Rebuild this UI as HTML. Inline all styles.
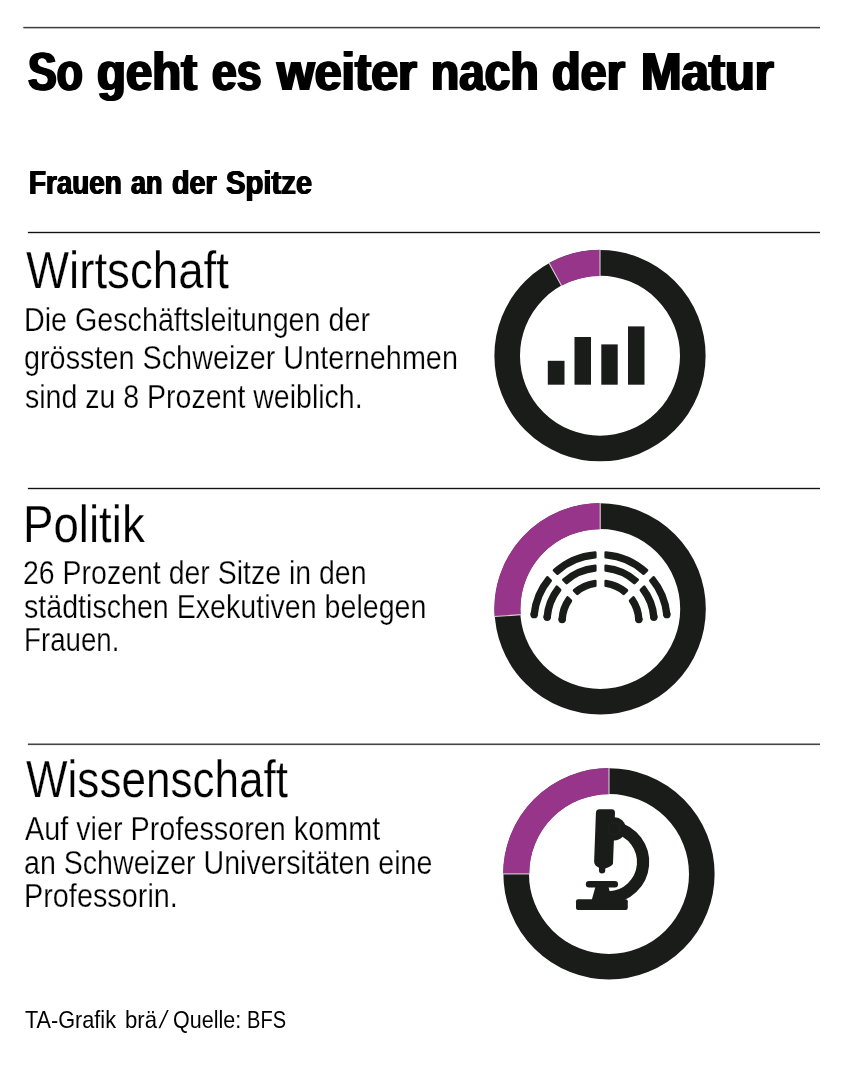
<!DOCTYPE html>
<html lang="de"><head><meta charset="utf-8"><title>So geht es weiter nach der Matur</title>
<style>
html,body{margin:0;padding:0;background:#fff;}
#g{position:relative;width:844px;height:1065px;overflow:hidden;background:#fff;
  font-family:"Liberation Sans",sans-serif;color:#000;}
#g svg{position:absolute;left:0;top:0;display:block;}
#g h1,#g h2,#g h3,#g p,#g footer,#g section{margin:0;padding:0;font-weight:normal;font-size:inherit;}
#g span{position:absolute;white-space:pre;line-height:1;transform-origin:0 0;display:block;}
#g h1,#g h2{font-weight:bold;color:#000;}
#g h3 span,#g p span{-webkit-text-stroke:0.25px #fff;}
#g h1 span{text-shadow:1.39px 0 0 #000,-1.39px 0 0 #000;}
#g h2 span{text-shadow:0.8px 0 0 #000,-0.8px 0 0 #000;}
</style></head><body>
<div id="g">
<svg width="844" height="1065" viewBox="0 0 844 1065">
<rect x="23.3" y="26.85" width="796.7" height="1.5" fill="#3c3c3c"/>
<rect x="27.9" y="231.82" width="792.1" height="1.35" fill="#111"/>
<rect x="27.9" y="487.82" width="792.1" height="1.35" fill="#111"/>
<rect x="27.9" y="743.50" width="792.1" height="1.6" fill="#444"/>
<circle cx="600" cy="355.7" r="92.8" fill="none" stroke="#191c18" stroke-width="25.6"/>
<path d="M600.00,262.90 A92.8,92.8 0 0 0 555.29,274.38" fill="none" stroke="#97358a" stroke-width="26.2"/>
<line x1="600.00" y1="276.20" x2="600.00" y2="249.60" stroke="#d4d0d6" stroke-width="1.1"/>
<line x1="561.70" y1="286.03" x2="548.89" y2="262.72" stroke="#d4d0d6" stroke-width="1.1"/>
<circle cx="600.2" cy="608.9" r="92.8" fill="none" stroke="#191c18" stroke-width="25.6"/>
<path d="M600.20,516.10 A92.8,92.8 0 0 0 507.64,615.60" fill="none" stroke="#97358a" stroke-width="26.2"/>
<line x1="600.20" y1="529.40" x2="600.20" y2="502.80" stroke="#d4d0d6" stroke-width="1.1"/>
<line x1="520.91" y1="614.64" x2="494.38" y2="616.56" stroke="#d4d0d6" stroke-width="1.1"/>
<circle cx="609.0" cy="873.9" r="92.8" fill="none" stroke="#191c18" stroke-width="25.6"/>
<path d="M609.00,781.10 A92.8,92.8 0 0 0 516.20,873.90" fill="none" stroke="#97358a" stroke-width="26.2"/>
<line x1="609.00" y1="794.40" x2="609.00" y2="767.80" stroke="#d4d0d6" stroke-width="1.1"/>
<line x1="529.50" y1="873.90" x2="502.90" y2="873.90" stroke="#d4d0d6" stroke-width="1.1"/>
<rect x="547.8" y="360.8" width="16.7" height="23.9" fill="#191c18"/>
<rect x="574.5" y="337.0" width="16.5" height="47.7" fill="#191c18"/>
<rect x="601.3" y="344.4" width="16.4" height="40.3" fill="#191c18"/>
<rect x="628.0" y="326.4" width="16.5" height="58.3" fill="#191c18"/>
<g fill="#191c18" stroke="#191c18" stroke-width="2.8" stroke-linejoin="round">
<path d="M554.07,570.35 A69.00,69.00 0 0 1 595.20,552.60 L595.20,557.22 A64.40,64.40 0 0 0 557.33,573.61 Z M531.85,614.43 A69.00,69.00 0 0 1 547.37,577.37 L550.64,580.64 A64.40,64.40 0 0 0 536.43,614.89 Z M646.93,570.35 A69.00,69.00 0 0 0 605.80,552.60 L605.80,557.22 A64.40,64.40 0 0 1 643.67,573.61 Z M669.15,614.43 A69.00,69.00 0 0 0 653.63,577.37 L650.36,580.64 A64.40,64.40 0 0 1 664.57,614.89 Z M563.42,579.70 A55.80,55.80 0 0 1 595.20,565.85 L595.20,570.48 A51.20,51.20 0 0 0 566.68,582.96 Z M544.86,617.12 A55.80,55.80 0 0 1 556.76,586.76 L560.03,590.03 A51.20,51.20 0 0 0 549.45,617.47 Z M637.58,579.70 A55.80,55.80 0 0 0 605.80,565.85 L605.80,570.48 A51.20,51.20 0 0 1 634.32,582.96 Z M656.14,617.12 A55.80,55.80 0 0 0 644.24,586.76 L640.97,590.03 A51.20,51.20 0 0 1 651.55,617.47 Z M574.12,590.40 A40.70,40.70 0 0 1 595.20,581.05 L595.20,585.69 A36.10,36.10 0 0 0 577.39,593.67 Z M559.85,619.48 A40.70,40.70 0 0 1 567.53,597.53 L570.83,600.83 A36.10,36.10 0 0 0 564.44,619.70 Z M626.88,590.40 A40.70,40.70 0 0 0 605.80,581.05 L605.80,585.69 A36.10,36.10 0 0 1 623.61,593.67 Z M641.15,619.48 A40.70,40.70 0 0 0 633.47,597.53 L630.17,600.83 A36.10,36.10 0 0 1 636.56,619.70 Z"/>
</g>
<g fill="#191c18">
<circle cx="534.14" cy="614.66" r="3.7"/>
<circle cx="666.86" cy="614.66" r="3.7"/>
<circle cx="547.16" cy="617.30" r="3.7"/>
<circle cx="653.84" cy="617.30" r="3.7"/>
<circle cx="562.14" cy="619.59" r="3.7"/>
<circle cx="638.86" cy="619.59" r="3.7"/>
</g>
<g transform="translate(560 800) scale(0.118483)" fill="#191c18" stroke="none">
<path d="M465.9,233.0 A297.5,297.5 0 0 1 414.4,821.3" fill="none" stroke="#191c18" stroke-width="103"/>
<circle cx="457" cy="243" r="98"/>
<path d="M334,78 L436,78 Q466,78 464,110 L447,538 Q444,556 382,578 L382,598 Q380,621 355,621 Q330,621 329,598 L329,572 Q289,556 288,520 L303,110 Q303,78 334,78 Z"/>
<circle cx="457" cy="243" r="50" fill="none" stroke="#40443f" stroke-width="3" stroke-dasharray="12 8"/>
<rect x="218" y="683" width="272" height="55" rx="27" ry="27"/>
<path d="M300,730 L408,730 L440,845 L268,845 Z"/>
<rect x="135" y="838" width="437" height="90" rx="17" ry="17"/>
</g>
</svg>
<h1><span style="left:27.98px;top:46px;font-size:52.8px;transform:scaleX(0.8149)">So</span> <span style="left:97.07px;top:46px;font-size:52.8px;transform:scaleX(0.8964)">geht</span> <span style="left:211.86px;top:46px;font-size:52.8px;transform:scaleX(0.8427)">es</span> <span style="left:277.01px;top:46px;font-size:52.8px;transform:scaleX(0.9170)">weiter</span> <span style="left:430.87px;top:46px;font-size:52.8px;transform:scaleX(0.8732)">nach</span> <span style="left:552.29px;top:46px;font-size:52.8px;transform:scaleX(0.8876)">der</span> <span style="left:640.70px;top:46px;font-size:52.8px;transform:scaleX(0.9235)">Matur</span></h1>
<h2><span style="left:28.76px;top:166px;font-size:33px;transform:scaleX(0.8424)">Frauen</span> <span style="left:131.08px;top:166px;font-size:33px;transform:scaleX(0.8159)">an</span> <span style="left:171.70px;top:166px;font-size:33px;transform:scaleX(0.8705)">der</span> <span style="left:226.34px;top:166px;font-size:33px;transform:scaleX(0.8869)">Spitze</span></h2>
<section><h3><span style="left:25.90px;top:245px;font-size:51.9px;transform:scaleX(0.8797)">Wirtschaft</span></h3><p><span style="left:24.06px;top:303px;font-size:33.6px;transform:scaleX(0.8541)">Die Geschäftsleitungen der</span> <span style="left:23.50px;top:341px;font-size:33.6px;transform:scaleX(0.8579)">grössten Schweizer Unternehmen</span> <span style="left:24.85px;top:380px;font-size:33.6px;transform:scaleX(0.8492)">sind zu 8 Prozent weiblich.</span></p></section>
<section><h3><span style="left:22.93px;top:499px;font-size:51.9px;transform:scaleX(0.8794)">Politik</span></h3><p><span style="left:23.06px;top:556px;font-size:33.6px;transform:scaleX(0.8481)">26 Prozent der Sitze in den</span> <span style="left:23.95px;top:590px;font-size:33.6px;transform:scaleX(0.8520)">städtischen Exekutiven belegen</span> <span style="left:24.34px;top:623px;font-size:33.6px;transform:scaleX(0.8244)">Frauen.</span></p></section>
<section><h3><span style="left:25.90px;top:754px;font-size:51.9px;transform:scaleX(0.8488)">Wissenschaft</span></h3><p><span style="left:24.80px;top:812px;font-size:33.6px;transform:scaleX(0.8573)">Auf vier Professoren kommt</span> <span style="left:23.51px;top:846px;font-size:33.6px;transform:scaleX(0.8514)">an Schweizer Universitäten eine</span> <span style="left:24.25px;top:879px;font-size:33.6px;transform:scaleX(0.8588)">Professorin.</span></p></section>
<footer><span style="left:24.96px;top:1008px;font-size:24.8px;transform:scaleX(0.8729)">TA-Grafik</span> <span style="left:125.11px;top:1008px;font-size:24.8px;transform:scaleX(0.8940)">brä</span><span style="left:163.00px;top:1008px;font-size:24.8px;transform:scaleX(0.9) skewX(-14deg)">/</span> <span style="left:173.19px;top:1008px;font-size:24.8px;transform:scaleX(0.8673)">Quelle:</span> <span style="left:246.93px;top:1008px;font-size:24.8px;transform:scaleX(0.8088)">BFS</span></footer>
</div>
</body></html>
